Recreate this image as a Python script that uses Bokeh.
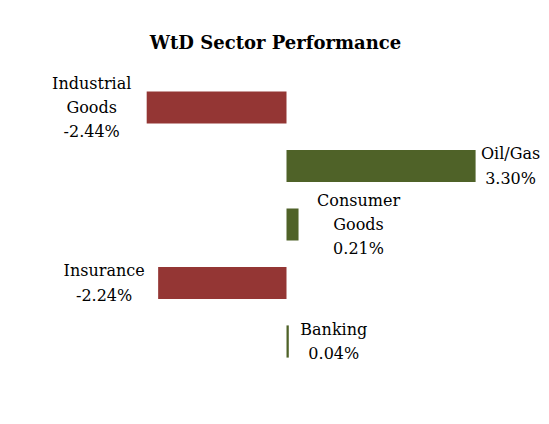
from bokeh.plotting import figure
from bokeh.models import Range1d, Label, ColumnDataSource
from bokeh.embed import file_html
from bokeh.resources import INLINE
from bokeh.core.properties import value

# ---- data ----
sectors = ["Industrial\nGoods", "Oil/Gas", "Consumer\nGoods", "Insurance", "Banking"]
changes = [-2.44, 3.30, 0.21, -2.24, 0.04]

# ---- style ----
RED = "#943634"
GREEN = "#4F6228"
FONT = "DejaVu Serif"
label_gap_px = [55, 35, 60, 54, 45]   # label centre distance from bar end (px)

W, H = 549, 424
px_per_unit = 57.3
zero_px = 286
row_px = 58.5
first_row_px = 107

p = figure(width=W, height=H, output_backend="svg", toolbar_location=None,
           x_range=Range1d(-zero_px / px_per_unit, (W - zero_px) / px_per_unit),
           y_range=Range1d((H - first_row_px) / row_px, -first_row_px / row_px),
           min_border_left=0, min_border_right=0, min_border_top=0, min_border_bottom=0)
p.axis.visible = False
p.grid.visible = False
p.outline_line_color = None
p.background_fill_color = "white"
p.border_fill_color = "white"

ypos = list(range(len(sectors)))
colors = [GREEN if v >= 0 else RED for v in changes]
labels = [f"{s}\n{v:.2f}%" for s, v in zip(sectors, changes)]
offsets = [g if v >= 0 else -g for g, v in zip(label_gap_px, changes)]

src = ColumnDataSource(dict(y=ypos, v=changes, c=colors, lab=labels, off=offsets))
p.hbar(y="y", left=0, right="v", height=0.55, fill_color="c", line_color=None, source=src)
p.text(x="v", y="y", text="lab", x_offset="off", source=src,
       text_align="center", text_baseline="middle",
       text_font=value(FONT), text_font_size="16px", text_color="black",
       text_line_height=1.28)

title = Label(x=275, y=H - 42, x_units="screen", y_units="screen",
              text="WtD Sector Performance", text_align="center", text_baseline="alphabetic",
              text_font=FONT, text_font_style="bold", text_font_size="18px", text_color="black")
p.add_layout(title)

open("out.html", "w").write(file_html(p, INLINE))
